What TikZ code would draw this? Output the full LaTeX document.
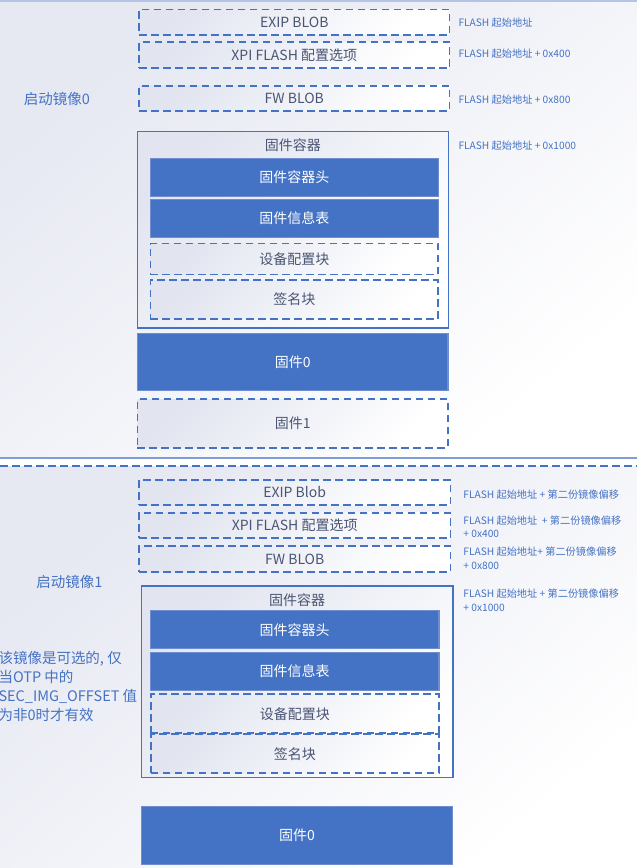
\documentclass[tikz,border=0pt]{standalone}
\usepackage{fontspec}
\setmainfont{Noto Sans CJK SC}
\definecolor{blu}{HTML}{4472C4}
\definecolor{bluEdge}{HTML}{6F8ED0}
\definecolor{divider}{HTML}{7F9DD6}
\definecolor{bgA}{HTML}{E6E8F2}
\definecolor{boxA}{HTML}{E2E5F0}
\definecolor{txt}{HTML}{4A5573}
\definecolor{topline}{HTML}{B4C4E4}
\begin{document}
\begin{tikzpicture}[x=1pt,y=-1pt,
  every node/.style={inner sep=0pt, outer sep=0pt, font=\fontsize{14}{17}\selectfont},
  grad/.style={top color=boxA, bottom color=white, shading angle=45},
  dbox/.style={draw=blu, line width=1.8pt, dash pattern=on 7.5pt off 4.5pt, grad, text=txt, align=center},
  fbox/.style={draw=bluEdge, line width=1.1pt, fill=blu, text=white, align=center},
  cbox/.style={draw=blu, line width=1.3pt, grad},
  ttl/.style={text=txt},
  lbl/.style={text=blu, font=\fontsize{10.2}{13.5}\selectfont, anchor=west, align=left},
  side/.style={text=blu, font=\fontsize{14.5}{19}\selectfont},
]
\useasboundingbox (0,0) rectangle (637,868);
% backgrounds
\shade[top color=bgA, bottom color=white, shading angle=40] (0,0) rectangle (637,457.5);
\shade[top color=bgA, bottom color=white, shading angle=40] (0,466) rectangle (637,868);
\draw[topline, line width=1.6pt] (0,0.7) -- (637,0.7);
\draw[divider, line width=1.6pt] (0,457.7) -- (637,457.7);
\draw[blu, line width=1.8pt, dash pattern=on 7.5pt off 4.5pt] (0,465.7) -- (637,465.7);

% ===== section 0 =====
\node[dbox, minimum width=310.5pt, minimum height=25.2pt] (exip0) at (294.3,22.1) {EXIP BLOB};
\node[dbox, minimum width=310.5pt, minimum height=26pt] (xpi0) at (294.3,55.3) {XPI FLASH 配置选项};
\node[dbox, minimum width=310.5pt, minimum height=25pt] (fw0) at (294.3,98.2) {FW BLOB};
\node[cbox, minimum width=311pt, minimum height=196.3pt] (cont0) at (292.9,229.9) {};
\node[ttl] (ct0) at (292.9,145) {固件容器};
\node[fbox, minimum width=287.8pt, minimum height=38.4pt] (hdr0) at (294.3,177.5) {固件容器头};
\node[fbox, minimum width=287.8pt, minimum height=38.7pt] (info0) at (294.3,218.4) {固件信息表};
\node[dbox, minimum width=287.8pt, minimum height=31pt] (dev0) at (294.3,259) {设备配置块};
\node[dbox, minimum width=287.8pt, minimum height=38.7pt] (sig0) at (294.3,299.4) {签名块};
\node[fbox, minimum width=310.6pt, minimum height=57.4pt] (fwa0) at (292.7,362) {固件0};
\node[dbox, minimum width=310.6pt, minimum height=48.4pt] (fwb0) at (292.7,423.5) {固件1};

\node[lbl] (l01) at (458.5,22.7) {FLASH 起始地址};
\node[lbl] (l02) at (458.5,53.3) {FLASH 起始地址 + 0x400};
\node[lbl] (l03) at (458.5,99.3) {FLASH 起始地址 + 0x800};
\node[lbl] (l04) at (458.5,145.7) {FLASH 起始地址 + 0x1000};
\node[side] (img0) at (57,99) {启动镜像0};

% ===== section 1 =====
\node[dbox, minimum width=311.4pt, minimum height=25pt] (exip1) at (294.7,492.5) {EXIP Blob};
\node[dbox, minimum width=311.4pt, minimum height=25.6pt] (xpi1) at (294.7,525.5) {XPI FLASH 配置选项};
\node[dbox, minimum width=311.4pt, minimum height=25.7pt] (fw1) at (294.7,558.9) {FW BLOB};
\node[cbox, minimum width=311.3pt, minimum height=191.3pt] (cont1) at (297.2,681.7) {};
\node[ttl] (ct1) at (297.2,600) {固件容器};
\node[fbox, minimum width=288.6pt, minimum height=38pt] (hdr1) at (294.7,629.7) {固件容器头};
\node[fbox, minimum width=288.6pt, minimum height=37.7pt] (info1) at (294.7,671.2) {固件信息表};
\node[dbox, minimum width=288.2pt, minimum height=39.3pt] (dev1) at (294.9,713.7) {设备配置块};
\node[dbox, minimum width=288.2pt, minimum height=39.3pt] (sig1) at (294.9,753.7) {签名块};
\node[fbox, minimum width=310.9pt, minimum height=57.3pt] (fwa1) at (297,835.4) {固件0};

\node[lbl] (l11) at (463.4,494.3) {FLASH 起始地址 + 第二份镜像偏移};
\node[lbl] (l12) at (463.4,526.7) {FLASH 起始地址~ + 第二份镜像偏移\\+ 0x400};
\node[lbl] (l13) at (463.4,558.2) {FLASH 起始地址+ 第二份镜像偏移\\+ 0x800};
\node[lbl] (l14) at (463.4,600.4) {FLASH 起始地址 + 第二份镜像偏移\\+ 0x1000};
\node[side] (img1) at (69.5,582) {启动镜像1};
\node[side, anchor=west, align=left] (note1) at (-1.5,686.7) {该镜像是可选的, 仅\\当OTP 中的\\SEC\_IMG\_OFFSET 值\\为非0时才有效};
\end{tikzpicture}
\end{document}
